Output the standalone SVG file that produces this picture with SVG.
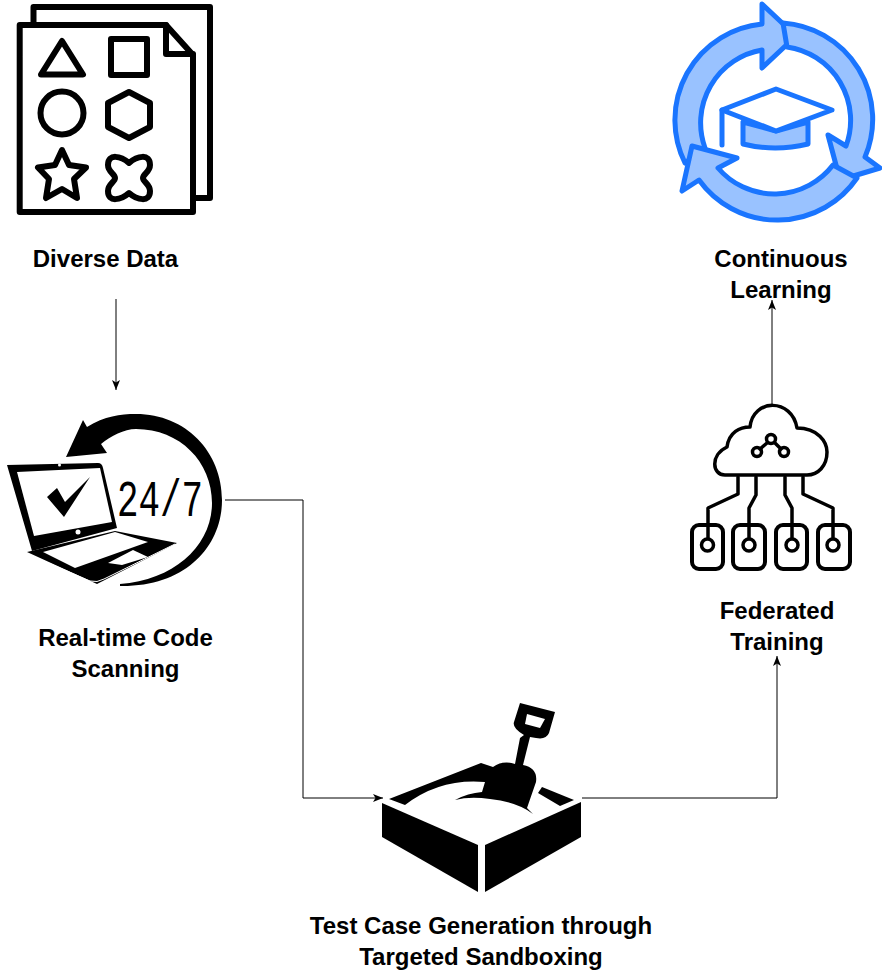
<svg xmlns="http://www.w3.org/2000/svg" width="882" height="974" viewBox="0 0 882 974">
<style>
.lbl{font-family:"Liberation Sans",Arial,sans-serif;font-size:24px;font-weight:700;fill:#000;text-anchor:middle}
.conn{fill:none;stroke:#000;stroke-width:1}
.k{fill:none;stroke:#000;stroke-width:6;stroke-linejoin:round;stroke-linecap:round}
.c{fill:none;stroke:#000;stroke-width:3.5;stroke-linejoin:round;stroke-linecap:round}
.b{fill:#99c2ff;stroke:#1a75ff;stroke-width:5;stroke-linejoin:round;stroke-linecap:round}
</style>
<defs>
<marker id="ah" markerUnits="userSpaceOnUse" markerWidth="12" markerHeight="10" refX="10" refY="5" orient="auto">
<path d="M0,1 L10,5 L0,9 L2.5,5 Z" fill="#000"/>
</marker>
</defs>
<rect width="882" height="974" fill="#fff"/>
<g id="connectors">
<path class="conn" d="M116,299V390" marker-end="url(#ah)"/>
<path class="conn" d="M225,500H303V798H383" marker-end="url(#ah)"/>
<path class="conn" d="M582,798H777V656" marker-end="url(#ah)"/>
<path class="conn" d="M772,405V300" marker-end="url(#ah)"/>
</g>
<g id="diverse-data">
<path class="k" d="M33.5,25V7H210V198H193"/>
<path class="k" d="M19.7,25H166L193,55V212H19.7Z"/>
<path class="k" d="M166,25V54H193"/>
<path class="k" d="M62,41L83,74.5H41Z"/>
<rect class="k" x="111" y="39" width="36" height="36"/>
<circle class="k" cx="62" cy="113" r="21.5"/>
<path class="k" d="M129,92L150,103V127L129,138L108,127V103Z"/>
<path class="k" d="M62,150L69,165L86,167.5L74,179L77,198L62,189L46,198L49,179L38,167.5L55,165Z"/>
<path class="k" d="M129,163C137,156 150,153 150,165C150,172 143,174 143,178C143,182 150,184 150,191C150,203 137,200 129,193C121,200 108,203 108,191C108,184 115,182 115,178C115,174 108,172 108,165C108,153 121,156 129,163Z"/>
<text class="lbl" x="105.500" y="267">Diverse Data</text>
</g>
<g id="real-time-code-scanning">
<path d="M66,457L83,420L87,427C105,416 120,414 136,414C186,414 222,452 222,500C222,546 186,587 120,586L120,584C175,580 212,545 212,503C212,462 180,429 136,429C124,429 111,436 101,444L107,453Z" fill="#000"/>
<path d="M7,465L98,463Q102,463 103,468L117,528L32,551Z" fill="#000"/>
<path d="M17,472L100,468L112,522L34,536Z" fill="#fff"/>
<circle cx="59.500" cy="465" r="1.500" fill="#fff"/>
<circle cx="78" cy="532" r="2.500" fill="#fff"/>
<path d="M47,497L57,488L65,502L90,477L64,517Z" fill="#000"/>
<path d="M27,552L115,531L177,543L97,584Z" fill="#000"/>
<path d="M43,552L115,532L148,542L75,568Z" fill="#fff"/>
<path d="M108,563L133,550L148,557L122,565Z" fill="#fff"/>
<path d="M28,554L90,581Q97,583 104,579L175,544" fill="none" stroke="#fff" stroke-width="1"/>
<text x="117" y="516" font-family="'Liberation Mono',monospace" font-size="52" fill="#000" textLength="86" lengthAdjust="spacingAndGlyphs">24/7</text>
<text class="lbl" x="125.500" y="646">Real-time Code</text>
<text class="lbl" x="125.500" y="677">Scanning</text>
</g>
<g id="test-case-generation">
<path d="M382,803L478,845V892L382,837Z" fill="#000"/>
<path d="M485,845L581,802V837L485,892Z" fill="#000"/>
<path d="M389,799L481,763L493,767Q503,760 515,764L520,738L524,735Q512,728 514,722L520,703L555,712L549,733Q546,740 536,738L530,737L523,765Q538,768 536,782L527,808L533,814Q518,802 490,799Q470,796 455,800Q468,793 482,792L485,782Q440,778 405,805Z" fill="#000"/>
<path d="M527,714L545,719L540,728L525,724Z" fill="#fff"/>
<path d="M538,793L542,787L574,800L560,806Z" fill="#000"/>
<text class="lbl" x="481" y="934">Test Case Generation through</text>
<text class="lbl" x="481" y="965">Targeted Sandboxing</text>
</g>
<g id="federated-training">
<path class="c" d="M725,475C712,475 710,455 727,447C729,432 740,427 750,427C753,398 792,398 797,428C818,428 827,442 827,452C827,466 818,475 807,475Z"/>
<path class="c" d="M738,477V494L708,508V538M756,477V495L749,508V538M785,477V495L792,508V538M803,477V494L833,508V538"/>
<path class="c" stroke-width="2.500" d="M767,443L760,449M775,443L781,449"/>
<circle class="c" cx="771" cy="439" r="4.500"/><circle class="c" cx="757" cy="452" r="4.500"/><circle class="c" cx="784" cy="452" r="4.500"/>
<rect class="c" style="stroke-width:4" x="692" y="525" width="31" height="44" rx="7"/>
<rect class="c" style="stroke-width:4" x="733" y="525" width="32" height="44" rx="7"/>
<rect class="c" style="stroke-width:4" x="776" y="525" width="31" height="44" rx="7"/>
<rect class="c" style="stroke-width:4" x="818" y="525" width="32" height="44" rx="7"/>
<circle class="c" cx="707.500" cy="545" r="6" fill="#fff" style="fill:#fff"/><circle class="c" cx="749" cy="545" r="6" style="fill:#fff"/><circle class="c" cx="792" cy="545" r="6" style="fill:#fff"/><circle class="c" cx="833" cy="545" r="6" style="fill:#fff"/>
<text class="lbl" x="777" y="619">Federated</text>
<text class="lbl" x="777" y="650">Training</text>
</g>
<g id="continuous-learning">
<path class="b" d="M685,163A96.500,96.500 0 0 1 762,24V4L796,36L762,68V50A74,74 0 0 0 705,148Z"/>
<path class="b" d="M783,23A96.500,96.500 0 0 1 865,157L880,168L840,180L828,135L846,146A74,74 0 0 0 787,47Z"/>
<path class="b" d="M857,178A96.500,96.500 0 0 1 699,180L682,191L692,146L737,158L718,168A74,74 0 0 0 833,165Z"/>
<path class="b" d="M743,122V144Q775,152 808,144V122L776,131Z"/>
<path d="M776,89L832,110L776,131L722,110Z" fill="#fff" stroke="#1a75ff" stroke-width="5" stroke-linejoin="round"/>
<path d="M722,110V145" fill="none" stroke="#1a75ff" stroke-width="5" stroke-linecap="round"/>
<text class="lbl" x="781" y="267">Continuous</text>
<text class="lbl" x="781" y="298">Learning</text>
</g>
</svg>
